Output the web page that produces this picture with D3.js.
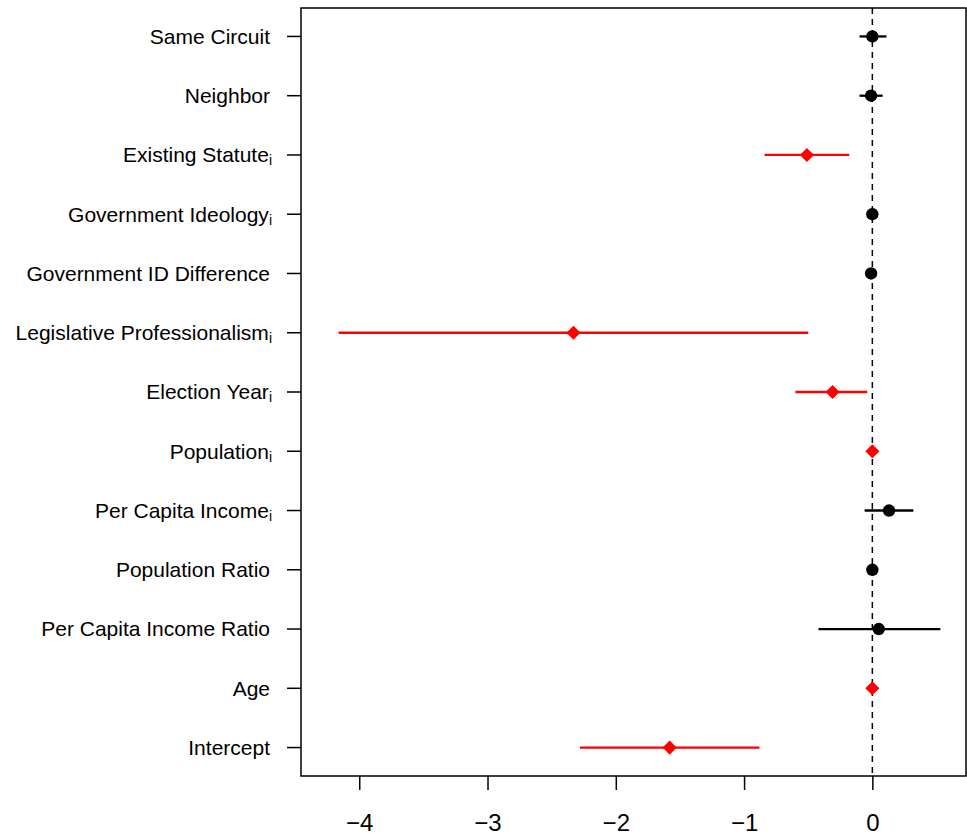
<!DOCTYPE html>
<html>
<head>
<meta charset="utf-8">
<script src="https://cdn.jsdelivr.net/npm/d3@7"></script>
<style>
  body { margin: 0; background: #fff; }
  text { font-family: "Liberation Sans", Arial, sans-serif; }
</style>
</head>
<body>
<div id="chart"></div>
<script>
// variable names, top to bottom; sub = subscript i
var labels = ["Same Circuit", "Neighbor", "Existing Statute", "Government Ideology",
  "Government ID Difference", "Legislative Professionalism", "Election Year",
  "Population", "Per Capita Income", "Population Ratio", "Per Capita Income Ratio",
  "Age", "Intercept"];
var subscripts = [false, false, true, true, false, true, true, true, true, false, false, false, false];
var estimates = [0.00, -0.01, -0.51, 0.00, -0.01, -2.33, -0.31, 0.00, 0.13, 0.00, 0.05, 0.00, -1.58];
var lower = [-0.10, -0.10, -0.84, -0.01, -0.01, -4.16, -0.60, -0.01, -0.06, -0.01, -0.42, -0.01, -2.28];
var upper = [0.11, 0.08, -0.18, 0.01, 0.00, -0.50, -0.04, 0.01, 0.32, 0.01, 0.53, 0.01, -0.88];
var significant = [false, false, true, false, false, true, true, true, false, false, false, true, true];
var xTicks = [-4, -3, -2, -1, 0];

var svg_width = 967, svg_height = 838;
var margin = { top: 8, right: 1, bottom: 62, left: 301 };
var width = svg_width - margin.left - margin.right;
var height = svg_height - margin.top - margin.bottom;

var svg = d3.select("#chart").append("svg")
  .attr("width", svg_width)
  .attr("height", svg_height);

var g = svg.append("g")
  .attr("transform", `translate(${margin.left}, ${margin.top})`);

// x scale
var x_scale = d3.scaleLinear()
  .domain([-4.454, 0.73])
  .range([0, width]);

// y scale: row 13 at the top, R style 4% padding
var n = labels.length;
var y_scale = d3.scaleLinear()
  .domain([1 - 0.48, n + 0.48])
  .range([height, 0]);
function rowY(i) { return y_scale(n - i); }

// dashed zero line
g.append("line")
  .attr("x1", x_scale(0)).attr("x2", x_scale(0))
  .attr("y1", 0).attr("y2", height)
  .attr("stroke", "#000")
  .attr("stroke-width", 1.5)
  .attr("stroke-dasharray", "6,5");

// confidence intervals
g.selectAll(".ci")
  .data(labels)
  .enter().append("line")
  .attr("class", "ci")
  .attr("x1", function(d, i) { return x_scale(lower[i]); })
  .attr("x2", function(d, i) { return x_scale(upper[i]); })
  .attr("y1", function(d, i) { return rowY(i); })
  .attr("y2", function(d, i) { return rowY(i); })
  .attr("stroke", function(d, i) { return significant[i] ? "#ff0000" : "#000"; })
  .attr("stroke-width", 2.3);

// point estimates
var diamond = d3.symbol().type(d3.symbolSquare).size(100);
labels.forEach(function(d, i) {
  if (significant[i]) {
    g.append("path")
      .attr("d", diamond())
      .attr("transform", `translate(${x_scale(estimates[i])}, ${rowY(i)}) rotate(45)`)
      .attr("fill", "#ff0000");
  } else {
    g.append("circle")
      .attr("cx", x_scale(estimates[i]))
      .attr("cy", rowY(i))
      .attr("r", 6.2)
      .attr("fill", "#000");
  }
});

// x axis
var x_axis = d3.axisBottom(x_scale)
  .tickValues(xTicks)
  .tickSize(14)
  .tickPadding(24)
  .tickFormat(function(d) { return d < 0 ? "\u2212" + Math.abs(d) : "" + d; });
var xg = g.append("g")
  .attr("transform", `translate(0, ${height})`)
  .call(x_axis);
xg.select(".domain").remove();
xg.selectAll("line").attr("stroke", "#000").attr("stroke-width", 1.5);
xg.selectAll("text").attr("font-size", 24).attr("fill", "#000")
  .attr("font-family", "Liberation Sans, Arial, sans-serif");

// y axis ticks and labels
var yg = g.append("g");
labels.forEach(function(d, i) {
  yg.append("line")
    .attr("x1", -14).attr("x2", 0)
    .attr("y1", rowY(i)).attr("y2", rowY(i))
    .attr("stroke", "#000").attr("stroke-width", 1.5);
  var t = yg.append("text")
    .attr("x", subscripts[i] ? -29 : -31)
    .attr("y", rowY(i))
    .attr("dy", "0.35em")
    .attr("text-anchor", "end")
    .attr("font-size", 21)
    .attr("fill", "#000");
  t.append("tspan").text(d);
  if (subscripts[i]) {
    t.append("tspan").attr("font-size", 14).attr("dy", 3).text("i");
  }
});

// box
g.append("rect")
  .attr("x", 0).attr("y", 0)
  .attr("width", width).attr("height", height)
  .attr("fill", "none")
  .attr("stroke", "#000")
  .attr("stroke-width", 1.5);
</script>
</body>
</html>
